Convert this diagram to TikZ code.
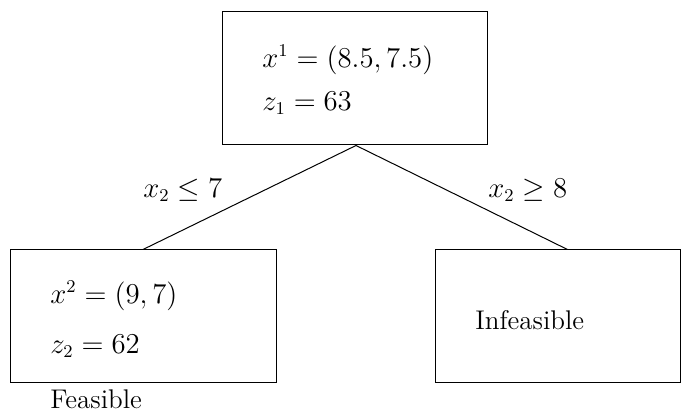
\documentclass[tikz,border=0pt]{standalone}
\usetikzlibrary{calc}
\begin{document}
\begin{tikzpicture}[x=1pt,y=1pt,
  box/.style={draw,line width=0.5pt,rectangle,inner sep=0pt},
  txt/.style={anchor=west,inner sep=0pt,font=\fontsize{13.5}{16}\selectfont},
  edge/.style={line width=0.5pt}]
\useasboundingbox (0,0) rectangle (345.5,206);
\node[box,minimum width=132.5pt,minimum height=66.5pt] (top) at (177.25,166.75) {};
\node[box,minimum width=133pt,minimum height=66.5pt] (left) at (71.5,47.75) {};
\node[box,minimum width=122.5pt,minimum height=66.5pt] (right) at (278.75,47.75) {};
\node[txt] (t1) at (131,176) {$x^1 = (8.5, 7.5)$};
\node[txt] (t2) at (131,154.5) {$z_1 = 63$};
\node[txt] (l1) at (25,58) {$x^2 = (9, 7)$};
\node[txt] (l2) at (25,33) {$z_2 = 62$};
\node[txt] (feas) at (25,6.3) {Feasible};
\node[txt] (inf) at (237.5,46) {Infeasible};
\node[txt] (lab1) at (71.5,111) {$x_2 \le 7$};
\node[txt] (lab2) at (244,111) {$x_2 \ge 8$};
\draw[edge] ([xshift=0.75pt]top.south) -- (left.north);
\draw[edge] ([xshift=0.75pt]top.south) -- ([xshift=5pt]right.north);
\end{tikzpicture}
\end{document}
